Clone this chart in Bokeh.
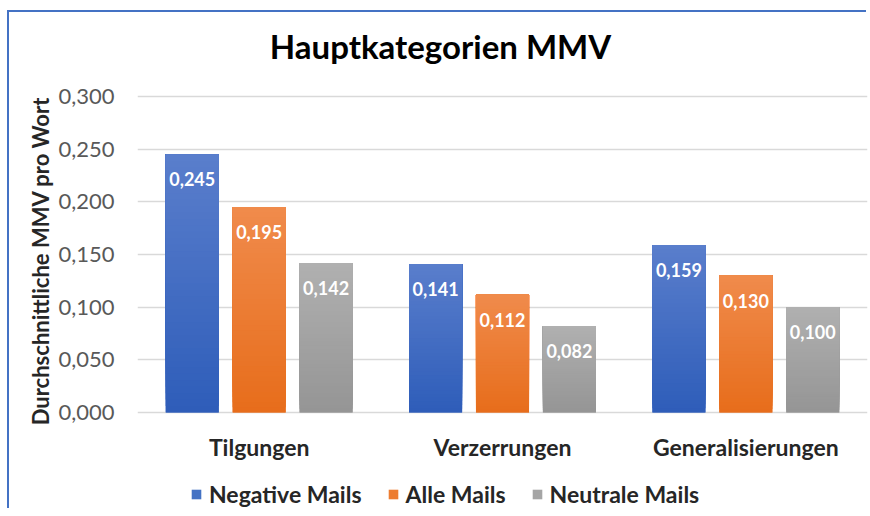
from bokeh.plotting import figure
from bokeh.models import FactorRange, Range1d, FixedTicker, Legend, LegendItem, ColumnDataSource
from bokeh.transform import dodge
from bokeh.core.properties import value
from bokeh.embed import file_html
from bokeh.resources import INLINE

# ---- data ----
title_text = "Hauptkategorien MMV"
categories = ["Tilgungen", "Verzerrungen", "Generalisierungen"]
series_names = ["Negative Mails", "Alle Mails", "Neutrale Mails"]
negative_mails = [0.245, 0.141, 0.159]
alle_mails = [0.195, 0.112, 0.130]
neutrale_mails = [0.142, 0.082, 0.100]
y_ticks = [0.0, 0.05, 0.10, 0.15, 0.20, 0.25, 0.30]
y_tick_labels = ["0,000", "0,050", "0,100", "0,150", "0,200", "0,250", "0,300"]

# ---- styles ----
FONT = "Lato"
legend_colors = ["#4472C4", "#ED7D31", "#A5A5A5"]
top_colors = ["#5A7ECC", "#F08B4C", "#B0B0B0"]
bottom_colors = ["#2E5DB9", "#E76D1B", "#959595"]
offsets = [-0.275, 0.0, 0.275]
bar_width = 0.218
N_SLICES = 40

# ---- layout (page px) ----
ORIGIN_X, ORIGIN_Y = 9, 12          # canvas origin (margin; border drawn as shadow)
W, H = 859, 498
FRAME_LEFT, FRAME_RIGHT = 137, 867
FRAME_TOP, FRAME_BOTTOM = ORIGIN_Y, ORIGIN_Y + H - 1
TOP_TICK_Y, ZERO_Y = 96, 412
TITLE_CX, TITLE_CY = 440, 45
Y_MAX = 0.3
unit = Y_MAX / (ZERO_Y - TOP_TICK_Y)
y_start = -(FRAME_BOTTOM - ZERO_Y) * unit
y_end = Y_MAX + (TOP_TICK_Y - FRAME_TOP) * unit
title_x = (TITLE_CX - FRAME_LEFT) / ((FRAME_RIGHT - FRAME_LEFT) / len(categories))
title_y = Y_MAX + (TOP_TICK_Y - TITLE_CY) * unit


def hex_to_rgb(h):
    h = h.lstrip("#")
    return tuple(int(h[i:i + 2], 16) for i in (0, 2, 4))


def mix(c1, c2, t):
    a, b = hex_to_rgb(c1), hex_to_rgb(c2)
    return "#%02x%02x%02x" % tuple(round(a[i] + (b[i] - a[i]) * t) for i in range(3))


p = figure(
    width=W, height=H,
    x_range=FactorRange(*categories),
    y_range=Range1d(y_start, y_end),
    output_backend="svg", toolbar_location=None,
    min_border_left=FRAME_LEFT - ORIGIN_X, min_border_right=ORIGIN_X + W - FRAME_RIGHT,
    min_border_top=0, min_border_bottom=1,
)
p.styles = {"margin-left": "%dpx" % ORIGIN_X, "margin-top": "%dpx" % ORIGIN_Y,
            "box-shadow": "-2px -2px 0px 0px #4472C4"}
p.title.text = ""
p.title.visible = False
p.title.standoff = 0
p.outline_line_color = None
p.background_fill_color = "white"
p.border_fill_color = "white"

# y axis
p.yaxis.ticker = FixedTicker(ticks=y_ticks)
p.yaxis.major_label_overrides = {t: l for t, l in zip(y_ticks, y_tick_labels)}
p.yaxis.major_label_text_font = FONT
p.yaxis.major_label_text_font_size = "22px"
p.yaxis.major_label_text_color = "#595959"
p.yaxis.major_label_standoff = 17
p.yaxis.axis_line_color = None
p.yaxis.major_tick_line_color = None
p.yaxis.minor_tick_line_color = None
p.yaxis.axis_label = "Durchschnittliche MMV pro Wort"
p.yaxis.axis_label_text_font = FONT
p.yaxis.axis_label_text_font_size = "22px"
p.yaxis.axis_label_text_font_style = "bold"
p.yaxis.axis_label_text_color = "#262626"
p.yaxis.axis_label_standoff = 1

p.xaxis.visible = False
p.xgrid.grid_line_color = None
p.ygrid.grid_line_color = "#D9D9D9"
p.ygrid.grid_line_width = 1.5

# chart title
title_src = ColumnDataSource(dict(x=[title_x], y=[title_y], t=[title_text]))
p.text(x="x", y="y", text="t", source=title_src,
       text_font=value(FONT), text_font_size="33px", text_font_style="bold",
       text_color="#000000", text_align="center", text_baseline="middle")

# category labels under the bars
cat_src = ColumnDataSource(dict(cat=categories, base=[0.0] * len(categories)))
p.text(x="cat", y="base", text="cat", source=cat_src,
       text_font=value(FONT), text_font_size="23px", text_font_style="bold",
       text_color="#262626", text_align="center", text_baseline="middle", y_offset=34)

series_values = [negative_mails, alle_mails, neutrale_mails]
legend_items = []
for i, vals in enumerate(series_values):
    src = ColumnDataSource(dict(cat=categories, val=vals,
                                lab=[("%.3f" % v).replace(".", ",") for v in vals]))
    r = p.vbar(x=dodge("cat", offsets[i], range=p.x_range), top="val", bottom=0,
               width=bar_width, source=src, fill_color=legend_colors[i], line_color=None)
    legend_items.append(LegendItem(label=series_names[i], renderers=[r]))
    cats, bots, tops, cols = [], [], [], []
    for c, v in zip(categories, vals):
        for k in range(N_SLICES):
            t = k / N_SLICES
            cats.append(c)
            bots.append(v * t)
            tops.append(v)
            cols.append(mix(bottom_colors[i], top_colors[i], (k + 0.5) / N_SLICES))
    gsrc = ColumnDataSource(dict(cat=cats, bottom=bots, top=tops, color=cols))
    p.vbar(x=dodge("cat", offsets[i], range=p.x_range), top="top", bottom="bottom",
           width=bar_width, source=gsrc, fill_color="color", line_color=None)
    p.text(x=dodge("cat", offsets[i], range=p.x_range), y="val", text="lab", source=src,
           text_font=value(FONT), text_font_size="18px", text_font_style="bold",
           text_color="white", text_align="center", text_baseline="middle", y_offset=25)

legend = Legend(items=legend_items, orientation="horizontal", location=(53, 1))
legend.label_text_font = FONT
legend.label_text_font_size = "23px"
legend.label_text_font_style = "bold"
legend.label_text_color = "#262626"
legend.glyph_width = 12
legend.glyph_height = 12
legend.spacing = 25
legend.label_standoff = 7
legend.border_line_color = None
legend.background_fill_alpha = 0
legend.margin = 0
legend.padding = 0
p.add_layout(legend, "center")

open("out.html", "w").write(file_html(p, INLINE))
